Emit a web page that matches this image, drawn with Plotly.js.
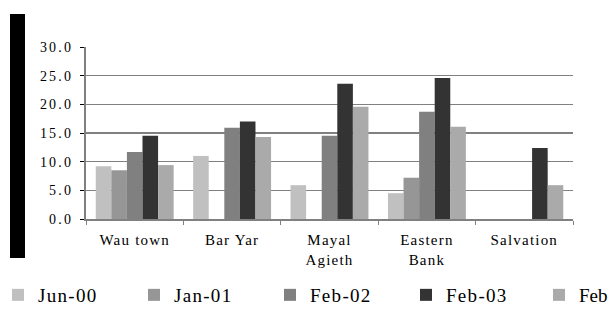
<!DOCTYPE html>
<html>
<head>
<meta charset="utf-8">
<script src="https://cdn.plot.ly/plotly-3.0.1.min.js"></script>
<style>
html,body{margin:0;padding:0;background:#fff;}
#chart{width:608px;height:309px;}
#chart .xtick text{letter-spacing:1.2px;}
#chart .ytick text{letter-spacing:2.2px;}
#chart .legendtext{letter-spacing:1.3px;}
</style>
</head>
<body>
<div id="chart"></div>
<script>
var categories = ["Wau town", "Bar Yar", "Mayal<br>Agieth", "Eastern<br>Bank", "Salvation"];
var seriesNames = ["Jun-00", "Jan-01", "Feb-02", "Feb-03", "Feb-04"];
var jun00 = [9.2, 11.0, 5.9, 4.5, null];
var jan01 = [8.5, null, null, 7.2, null];
var feb02 = [11.7, 15.9, 14.5, 18.7, null];
var feb03 = [14.5, 17.0, 23.6, 24.6, 12.4];
var feb04 = [9.4, 14.3, 19.6, 16.1, 5.9];
var yTicks = [0, 5, 10, 15, 20, 25, 30];

var colors = ["#c0c0c0", "#969696", "#808080", "#333333", "#aaaaaa"];
var allValues = [jun00, jan01, feb02, feb03, feb04];
var legendIds = ["legend", "legend", "legend", "legend", "legend2"];

var W = 608, H = 309, B = 35;
var gh = H - B;
function py(p) { return (gh - p) / gh; }

var traces = allValues.map(function (vals, i) {
  return {
    type: "bar",
    name: seriesNames[i],
    x: categories,
    y: vals,
    legend: legendIds[i],
    marker: { color: colors[i], line: { width: 0 } },
    hoverinfo: "skip"
  };
});

var legendBase = {
  orientation: "h",
  xanchor: "left",
  y: py(295),
  yanchor: "middle",
  entrywidth: 91,
  entrywidthmode: "pixels",
  font: { size: 19 },
  bgcolor: "rgba(0,0,0,0)",
  traceorder: "normal"
};

var layout = {
  width: W, height: H,
  margin: { l: 0, r: 0, t: 0, b: B, autoexpand: false },
  paper_bgcolor: "#ffffff",
  plot_bgcolor: "#ffffff",
  barmode: "group",
  bargap: 0.2,
  bargroupgap: 0,
  font: { family: "'Liberation Serif', 'DejaVu Serif', serif", color: "#000000", size: 13 },
  xaxis: {
    domain: [86 / W, 573 / W],
    type: "category",
    tickson: "boundaries",
    ticks: "outside",
    ticklen: 4,
    tickcolor: "#808080",
    tickwidth: 1,
    showline: true,
    linecolor: "#808080",
    linewidth: 2,
    showgrid: false,
    tickfont: { size: 15 },
    ticklabelstandoff: 6,
    fixedrange: true
  },
  yaxis: {
    domain: [py(219), py(47)],
    range: [0, 30],
    tickvals: yTicks,
    tickformat: ".1f",
    ticks: "outside",
    ticklen: 4,
    tickcolor: "#000000",
    showline: true,
    linecolor: "#808080",
    linewidth: 2,
    showgrid: true,
    gridcolor: "#808080",
    gridwidth: 1.5,
    zeroline: false,
    tickfont: { size: 14 },
    ticklabelstandoff: 4,
    fixedrange: true
  },
  showlegend: true,
  legend: Object.assign({}, legendBase, { x: -2 / W }),
  legend2: Object.assign({}, legendBase, { x: 539 / W }),
  shapes: [{
    type: "rect",
    xref: "paper", yref: "paper",
    x0: 10 / W, x1: 25 / W,
    y0: py(258), y1: py(14),
    fillcolor: "#000000",
    line: { width: 0 },
    layer: "above"
  }]
};

Plotly.newPlot("chart", traces, layout, { displayModeBar: false, staticPlot: true });
</script>
</body>
</html>
